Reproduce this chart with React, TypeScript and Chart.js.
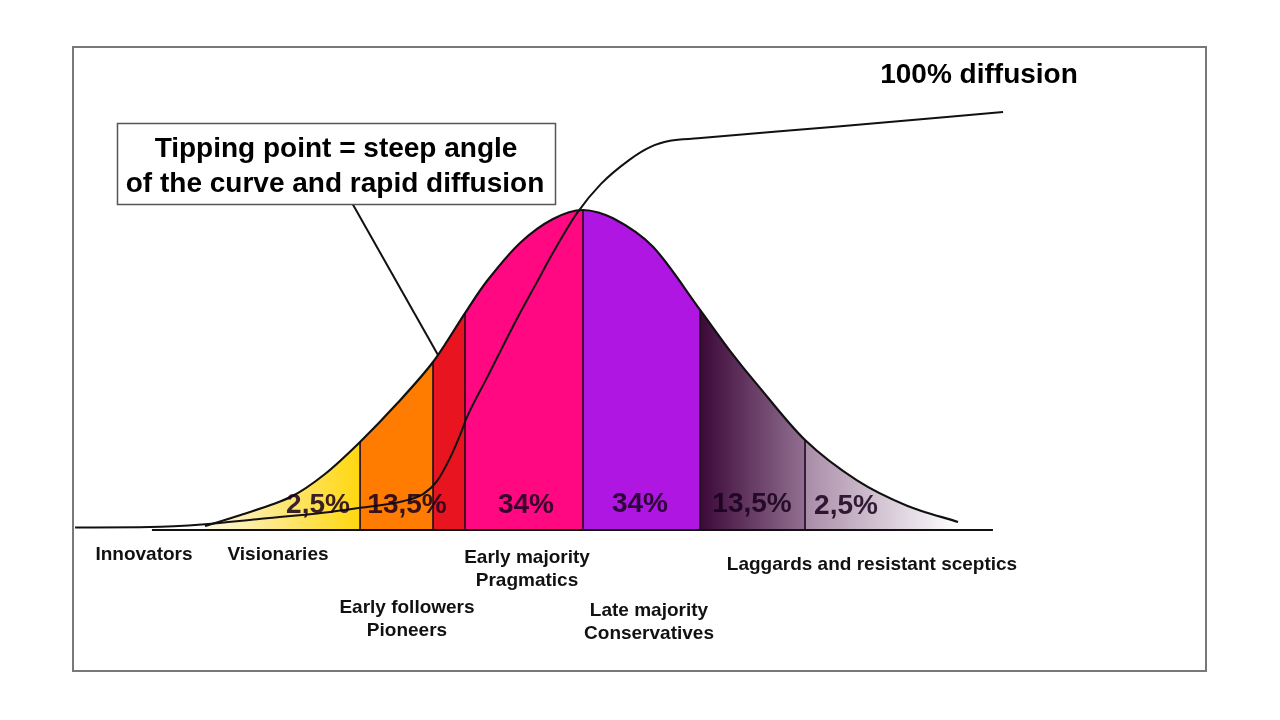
import React, { useEffect, useRef } from "react";
import { Chart, registerables } from "chart.js";

Chart.register(...registerables);

// x: adoption time in standard deviations from the mean
// Bell curve: share of adopters (% of peak density)
const BELL_X = [-3.259, -2.957, -2.526, -2.224, -1.922, -1.603, -1.293, -1.017, -0.828, -0.543, -0.259, 0, 0.259, 0.603, 1.009, 1.267, 1.5, 1.914, 2.362, 2.793, 3.233];
const BELL_Y = [1.25, 4.6, 10.2, 17.5, 27.5, 39.5, 52.5, 67.8, 77.8, 89.7, 97.2, 100, 97.4, 88.5, 68.8, 56.0, 45.5, 28.1, 15.5, 7.6, 2.5];

// S-curve: cumulative diffusion (%)
const S_X = [-4.379, -3.733, -3.259, -2.81, -2.241, -1.922, -1.552, -1.379, -1.259, -1.147, -1.06, -1.0, -0.828, -0.69, -0.543, -0.397, -0.259, -0.052, 0.155, 0.397, 0.578, 0.75, 0.991, 2.172, 3.621];
const S_Y = [0.6, 0.7, 1.4, 2.6, 4.1, 5.3, 6.9, 8.6, 11.7, 17.2, 22.7, 27.0, 36.4, 44.0, 51.9, 59.3, 66.3, 75.8, 82.8, 88.5, 91.6, 93.1, 93.7, 96.5, 100];

const DIVIDER_X = [-1.922, -1.293, -1.017, 0, 1.009, 1.914];
const SEGMENT_EDGES = [-3.259, ...DIVIDER_X, 3.233];
const SEGMENT_COLORS: [string, string][] = [
  ["#fcf7e2", "#ffd70f"],
  ["#ff7c00", "#ff7c00"],
  ["#e8141f", "#e8141f"],
  ["#ff0882", "#ff0882"],
  ["#b016e2", "#b016e2"],
  ["#3c0838", "#927092"],
  ["#a98ca8", "#ffffff"],
];
const SHARE_LABELS = ["2,5%", "13,5%", "34%", "34%", "13,5%", "2,5%"];
const GROUP_LABELS = [
  ["Innovators"],
  ["Visionaries"],
  ["Early followers", "Pioneers"],
  ["Early majority", "Pragmatics"],
  ["Late majority", "Conservatives"],
  ["Laggards and resistant sceptics"],
];
const CALLOUT_LINES = ["Tipping point = steep angle", "of the curve and rapid diffusion"];
const TOP_LABEL = "100% diffusion";
const BASELINE_X = [-3.716, 3.534];
const POINTER = [
  { x: -1.991, y: 102.2 },
  { x: -1.25, y: 54.7 },
];

// layout (pixels) for annotation text
const SHARE_POS = [[318, 513], [407, 513], [526, 513], [640, 512], [752, 512], [846, 514]];
const GROUP_POS = [
  [[144, 560]],
  [[278, 560]],
  [[407, 613], [407, 636]],
  [[527, 563], [527, 586]],
  [[649, 616], [649, 639]],
  [[872, 570]],
];

const FONT = '"Liberation Sans", Arial, Helvetica, sans-serif';

function bellFill(context: any) {
  const chart = context.chart;
  if (!chart.chartArea) return "transparent";
  const xs = chart.scales.x;
  const p0 = xs.getPixelForValue(SEGMENT_EDGES[0]);
  const p1 = xs.getPixelForValue(SEGMENT_EDGES[SEGMENT_EDGES.length - 1]);
  const span = p1 - p0;
  const g = chart.ctx.createLinearGradient(p0, 0, p1, 0);
  SEGMENT_COLORS.forEach(([c0, c1], i) => {
    const a = (xs.getPixelForValue(SEGMENT_EDGES[i]) - p0) / span;
    const b = (xs.getPixelForValue(SEGMENT_EDGES[i + 1]) - p0) / span;
    g.addColorStop(Math.max(0, Math.min(1, a)), c0);
    g.addColorStop(Math.max(0, Math.min(1, b - 0.0004)), c1);
  });
  return g;
}

const overlay = {
  id: "overlay",
  afterDatasetsDraw(chart: any) {
    const ctx = chart.ctx as CanvasRenderingContext2D;
    ctx.save();
    // frame
    ctx.strokeStyle = "#787878";
    ctx.lineWidth = 2;
    ctx.strokeRect(73, 47, 1133, 624);
    // callout box
    ctx.fillStyle = "#ffffff";
    ctx.fillRect(117, 123, 438, 81);
    ctx.strokeStyle = "#555555";
    ctx.lineWidth = 1.5;
    ctx.strokeRect(117.5, 123.5, 438, 81);
    ctx.fillStyle = "#000000";
    ctx.textAlign = "center";
    ctx.textBaseline = "alphabetic";
    ctx.font = `bold 28px ${FONT}`;
    ctx.fillText(CALLOUT_LINES[0], 336, 157);
    ctx.fillText(CALLOUT_LINES[1], 335, 192);
    ctx.fillText(TOP_LABEL, 979, 83);
    // share labels
    ctx.fillStyle = "rgba(25,0,30,0.86)";
    SHARE_LABELS.forEach((t, i) => {
      ctx.fillText(t, SHARE_POS[i][0], SHARE_POS[i][1]);
    });
    // group labels
    ctx.fillStyle = "#111111";
    ctx.font = `bold 19px ${FONT}`;
    GROUP_LABELS.forEach((lines, i) => {
      lines.forEach((t, j) => {
        ctx.fillText(t, GROUP_POS[i][j][0], GROUP_POS[i][j][1]);
      });
    });
    ctx.restore();
  },
};

export default function App() {
  const ref = useRef<HTMLCanvasElement | null>(null);
  useEffect(() => {
    if (!ref.current) return;
    const bellData = BELL_X.map((x, i) => ({ x, y: BELL_Y[i] }));
    const dividerSets = DIVIDER_X.map((d) => {
      const idx = BELL_X.indexOf(d);
      return {
        data: [
          { x: d, y: 0 },
          { x: d, y: BELL_Y[idx] },
        ],
        borderColor: "#1a0a1a",
        borderWidth: 1.6,
        pointRadius: 0,
        fill: false,
        order: 5,
        yAxisID: "y",
      };
    });
    const chart = new Chart(ref.current, {
      type: "line",
      data: {
        datasets: [
          {
            data: bellData,
            borderColor: "#111111",
            borderWidth: 2.2,
            backgroundColor: bellFill,
            fill: "origin",
            pointRadius: 0,
            tension: 0.3,
            order: 10,
            yAxisID: "y",
          } as any,
          ...dividerSets,
          {
            data: BASELINE_X.map((x) => ({ x, y: 0 })),
            borderColor: "#111111",
            borderWidth: 2.2,
            pointRadius: 0,
            fill: false,
            order: 3,
            yAxisID: "y",
          },
          {
            data: S_X.map((x, i) => ({ x, y: S_Y[i] })),
            borderColor: "#111111",
            borderWidth: 2,
            pointRadius: 0,
            fill: false,
            cubicInterpolationMode: "monotone",
            order: 1,
            yAxisID: "y2",
          },
          {
            data: POINTER,
            borderColor: "#111111",
            borderWidth: 2,
            pointRadius: 0,
            fill: false,
            order: 1,
            yAxisID: "y",
          },
        ],
      },
      options: {
        responsive: false,
        animation: false,
        events: [],
        layout: { padding: 0 },
        scales: {
          x: { type: "linear", display: false, min: -5.0259, max: 6.0086 },
          y: { type: "linear", display: false, min: -59.375, max: 165.625 },
          y2: { type: "linear", display: false, min: -45.455, max: 126.794 },
        },
        plugins: {
          legend: { display: false },
          tooltip: { enabled: false },
        },
      },
      plugins: [overlay],
    });
    return () => chart.destroy();
  }, []);
  return (
    <div style={{ position: "fixed", left: 0, top: 0, width: 1280, height: 720, background: "#ffffff" }}>
      <canvas ref={ref} width={1280} height={720} style={{ display: "block" }} />
    </div>
  );
}
